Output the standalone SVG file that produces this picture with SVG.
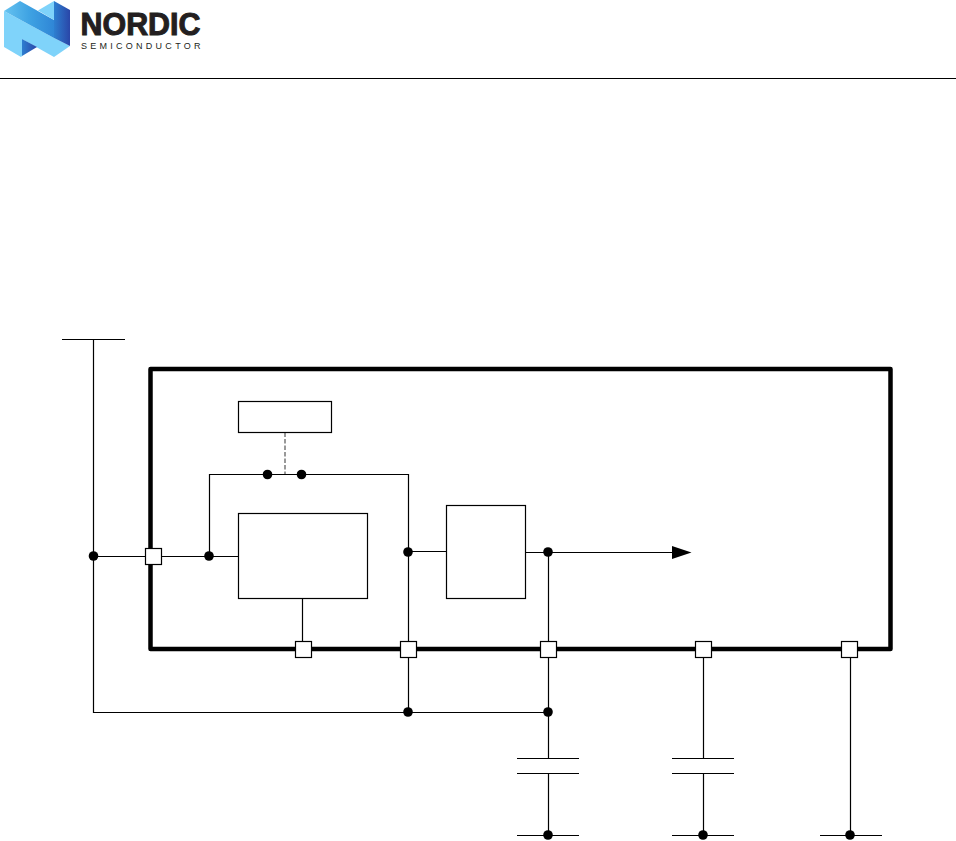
<svg xmlns="http://www.w3.org/2000/svg" width="956" height="841" viewBox="0 0 956 841">
<style>
.w{fill:none;stroke:#000;stroke-width:1.2}
.b{fill:#fff;stroke:#000;stroke-width:1.2}
.p{fill:#fff;stroke:#000;stroke-width:1.2}
.d{fill:#000}
</style>
<defs>
<linearGradient id="g1" gradientUnits="userSpaceOnUse" x1="4" y1="0" x2="54" y2="0"><stop offset="0" stop-color="#66c3f0"/><stop offset="0.5" stop-color="#3fa3e3"/><stop offset="1" stop-color="#2f86d6"/></linearGradient>
<linearGradient id="g2" gradientUnits="userSpaceOnUse" x1="54" y1="0" x2="70" y2="0"><stop offset="0" stop-color="#2d7fd0"/><stop offset="1" stop-color="#2a46a8"/></linearGradient>
<linearGradient id="g3" gradientUnits="userSpaceOnUse" x1="22" y1="0" x2="37" y2="0"><stop offset="0" stop-color="#2d7fd0"/><stop offset="1" stop-color="#2a46a8"/></linearGradient>
<marker id="arr" markerWidth="20" markerHeight="14" refX="0" refY="6.500" orient="auto" markerUnits="userSpaceOnUse"><path d="M0 0L19.500 6.500L0 13Z" fill="#000"/></marker>
</defs>
<rect width="956" height="841" fill="#fff"/>
<g id="logo">
<path d="M4 11L54 38L70 46L54 57L22 39V56L21 57L4 47Z" fill="#7fd3fa"/>
<path d="M4 11L20 1L54 20V38Z" fill="url(#g1)"/>
<path d="M38 10.500L54 1V20Z" fill="#7fd3fa"/>
<path d="M54 1L70 10V46L54 38Z" fill="url(#g2)"/>
<path d="M22 39L37 47L22 56Z" fill="url(#g3)"/>
<text x="80.500" y="34.500" font-family="'Liberation Sans',Arial,sans-serif" font-size="30.500" font-weight="bold" fill="#231f20" stroke="#231f20" stroke-width="1" textLength="120" lengthAdjust="spacingAndGlyphs">NORDIC</text>
<text x="81" y="49" font-family="'Liberation Sans',Arial,sans-serif" font-size="9" fill="#231f20" textLength="119.500">SEMICONDUCTOR</text>
</g>
<path d="M0 78.500H956" stroke="#000" stroke-width="1.200" fill="none"/>
<rect id="frame" x="150.500" y="369" width="740" height="280" fill="none" stroke="#000" stroke-width="4.500" stroke-linejoin="round"/>
<g id="connectors">
<path class="w" d="M62 339.500H125M93.500 339.500V712.500H548.500"/>
<path class="w" d="M93.500 556.500H145.500M161.500 556.500H238.500M209.500 556.500V474.500H408.500V641.500M408.500 551.500H446.500M302.500 598.500V641.500"/>
<path class="w" d="M525.500 552.500H672" marker-end="url(#arr)"/>
<path class="w" d="M548.500 552.500V641.500M548.500 657.500V758.500M408.500 657.500V712.500"/>
<path class="w" d="M517 758.500H579M517 773.500H579M548.500 773.500V835.500M517 835.500H579"/>
<path class="w" d="M703.500 657.500V758.500M672 758.500H734M672 773.500H734M703.500 773.500V835.500M672 835.500H734"/>
<path class="w" d="M850.500 657.500V835.500M820 835.500H882"/>
<path d="M285 432.500V474" fill="none" stroke="#999" stroke-width="2" stroke-dasharray="4.500 2"/>
</g>
<g id="node-top"><rect class="b" x="238.500" y="401.500" width="93" height="31"/></g>
<g id="node-main"><rect class="b" x="238.500" y="513.500" width="129" height="85"/></g>
<g id="node-right"><rect class="b" x="446.500" y="505.500" width="79" height="93"/></g>
<g id="ports">
<rect class="p" x="145.500" y="548.500" width="16" height="16"/>
<rect class="p" x="295.500" y="641.500" width="16" height="16"/>
<rect class="p" x="400.500" y="641.500" width="16" height="16"/>
<rect class="p" x="540.500" y="641.500" width="16" height="16"/>
<rect class="p" x="695.500" y="641.500" width="16" height="16"/>
<rect class="p" x="841.500" y="641.500" width="16" height="16"/>
</g>
<g id="dots">
<circle class="d" cx="93.500" cy="556" r="4.800"/>
<circle class="d" cx="209" cy="556" r="4.800"/>
<circle class="d" cx="267.500" cy="474.500" r="4.800"/>
<circle class="d" cx="301.500" cy="474.500" r="4.800"/>
<circle class="d" cx="408" cy="552" r="4.800"/>
<circle class="d" cx="548" cy="552" r="4.800"/>
<circle class="d" cx="408" cy="712" r="4.800"/>
<circle class="d" cx="548" cy="712" r="4.800"/>
<circle class="d" cx="548" cy="835" r="4.800"/>
<circle class="d" cx="703" cy="835" r="4.800"/>
<circle class="d" cx="850" cy="835" r="4.800"/>
</g>
</svg>
